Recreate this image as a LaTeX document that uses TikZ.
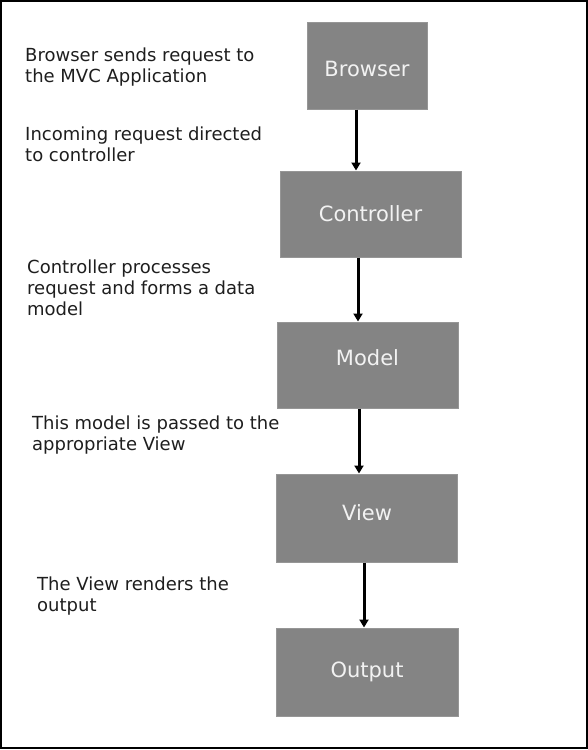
\documentclass[tikz,border=0pt]{standalone}
\usepackage{fontspec}
\setmainfont{DejaVu Sans}
\usepackage{xcolor}
\usetikzlibrary{arrows.meta,positioning}
\definecolor{boxgray}{RGB}{132,132,132}
\definecolor{boxedge}{RGB}{150,150,150}
\definecolor{labeltext}{RGB}{242,242,242}
\definecolor{notetext}{RGB}{30,30,30}

\begin{document}
\begin{tikzpicture}[x=1pt, y=-1pt,
    stage/.style={rectangle, fill=boxgray, draw=boxedge, line width=1pt, text=labeltext,
      font=\fontsize{21}{25}\selectfont, minimum width=181pt, minimum height=86pt, inner sep=0pt},
    note/.style={anchor=base west, align=left, inner sep=0pt, text=notetext,
      font=\fontsize{18}{21}\selectfont},
    flow/.style={-{Triangle[length=8pt,width=9pt]}, line width=3pt, black}]
    \useasboundingbox (0,0) rectangle (588,750);
    \draw[line width=1.5pt] (1,1) rectangle (587,748);

    \node(Browser) at (367,65.5) [stage, minimum width=120pt, minimum height=87pt, text height=22pt] {Browser};
    \node(Controller) at (370.5,214) [stage] {Controller};
    \node(Model) at (367.5,365) [stage, text depth=14pt] {Model};
    \node(View) at (367,518) [stage, minimum height=88pt, text depth=11pt] {View};
    \node(Output) at (367,672) [stage, minimum width=182pt, minimum height=88pt] {Output};

    \node(NoteBrowser) at (25,82) [note] {Browser sends request to\\the MVC Application};
    \node(NoteController) at (25,161) [note] {Incoming request directed\\to controller};
    \node(NoteModel) at (27,315) [note] {Controller processes\\request and forms a data\\model};
    \node(NoteView) at (32,450) [note] {This model is passed to the\\appropriate View};
    \node(NoteOutput) at (37,611) [note] {The View renders the\\output};

    \draw[flow] ([xshift=-11pt]Browser.south) -- ([xshift=-11pt]Browser.south |- Controller.north);
    \draw[flow] ([xshift=-12.5pt]Controller.south) -- ([xshift=-12.5pt]Controller.south |- Model.north);
    \draw[flow] ([xshift=-8.5pt]Model.south) -- ([xshift=-8.5pt]Model.south |- View.north);
    \draw[flow] ([xshift=-3pt]View.south) -- ([xshift=-3pt]View.south |- Output.north);
  \end{tikzpicture}
\end{document}
